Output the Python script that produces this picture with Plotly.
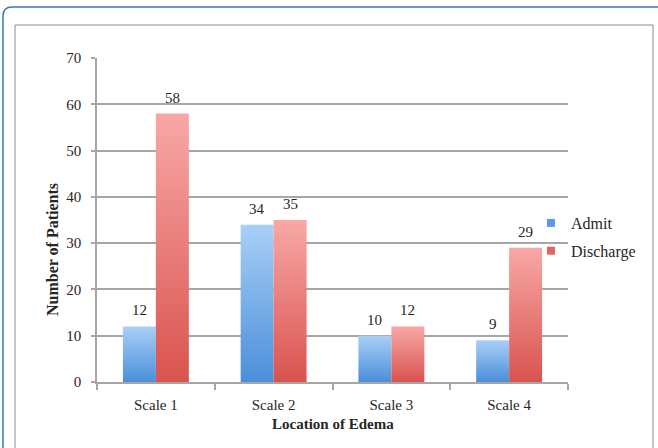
import plotly.graph_objects as go

# Data
categories = ["Scale 1", "Scale 2", "Scale 3", "Scale 4"]
admit = [12, 34, 10, 9]
discharge = [58, 35, 12, 29]
series_names = ["Admit", "Discharge"]

# Styling
FONT = "Liberation Serif"
TXT = "#262626"
GRID = "#a6a6a6"
BAR_W = 0.28
gradients = {
    "Admit": [[0, "#4a8fd9"], [1, "#a9cff7"]],
    "Discharge": [[0, "#d9534f"], [1, "#f8a8a6"]],
}
legend_colors = {"Admit": "#5b9be0", "Discharge": "#e06666"}

W, H = 658, 448
L, R, T, B = 97, 90, 58, 66
PW, PH = W - L - R, H - T - B


def px_to_paper_x(px):
    return (px - L) / PW


def px_to_paper_y(py):
    return (H - B - py) / PH


fig = go.Figure()

for s_idx, (name, values) in enumerate(zip(series_names, [admit, discharge])):
    for c_idx, v in enumerate(values):
        x0 = c_idx - BAR_W + s_idx * BAR_W
        x1 = x0 + BAR_W
        fig.add_trace(go.Scatter(
            x=[x0, x1, x1, x0, x0], y=[0, 0, v, v, 0],
            mode="lines", fill="toself", line=dict(width=0),
            fillgradient=dict(type="vertical", colorscale=gradients[name]),
            showlegend=False, hoverinfo="skip",
        ))
        fig.add_annotation(
            x=(x0 + x1) / 2, y=v, text=str(v), showarrow=False,
            yanchor="bottom", yshift=6,
            font=dict(family=FONT, size=15, color=TXT),
        )
    # legend entry
    fig.add_trace(go.Scatter(
        x=[None], y=[None], mode="markers", name=name, legendgroup=name,
        marker=dict(symbol="square", size=8, color=legend_colors[name]),
    ))

fig.update_layout(
    width=W, height=H,
    margin=dict(l=L, r=R, t=T, b=B),
    paper_bgcolor="white", plot_bgcolor="white",
    font=dict(family=FONT, size=15, color=TXT),
    showlegend=True,
    legend=dict(
        x=px_to_paper_x(531), y=px_to_paper_y(206), xanchor="left", yanchor="top",
        font=dict(family=FONT, size=16, color=TXT),
        tracegroupgap=4, itemwidth=30, bgcolor="rgba(0,0,0,0)",
    ),
    xaxis=dict(
        range=[-0.5, len(categories) - 0.5],
        tickmode="array", tickvals=list(range(len(categories))), ticktext=categories,
        ticks="", showgrid=False, zeroline=False,
        showline=True, linecolor=GRID, linewidth=1.5,
        ticklabelstandoff=8,
        minor=dict(tickmode="array",
                   tickvals=[i - 0.5 for i in range(len(categories) + 1)],
                   ticks="outside", ticklen=6, tickcolor=GRID, tickwidth=1.5,
                   showgrid=False),
        tickfont=dict(family=FONT, size=15, color=TXT),
        fixedrange=True,
    ),
    yaxis=dict(
        range=[0, 70], dtick=10, tick0=0,
        showgrid=True, gridcolor=GRID, gridwidth=1.5,
        zeroline=False, showline=True, linecolor=GRID, linewidth=1.5,
        ticks="outside", ticklen=4, tickcolor=GRID, tickwidth=1.5,
        ticklabelstandoff=7,
        tickfont=dict(family=FONT, size=15, color=TXT),
        fixedrange=True,
    ),
)

# Axis titles
fig.add_annotation(
    xref="paper", yref="paper", x=px_to_paper_x(52), y=px_to_paper_y(250),
    xanchor="center", yanchor="middle",
    text="<b>Number of Patients</b>", textangle=-90, showarrow=False,
    font=dict(family=FONT, size=16, color=TXT),
)
fig.add_annotation(
    xref="paper", yref="paper", x=px_to_paper_x(333), y=px_to_paper_y(424),
    xanchor="center", yanchor="middle",
    text="<b>Location of Edema</b>", showarrow=False,
    font=dict(family=FONT, size=15, color=TXT),
)

# Chart frame: outer rounded blue border and inner grey box
ox0, oy0 = px_to_paper_x(3), px_to_paper_y(7)
ox1, oy1 = px_to_paper_x(670), px_to_paper_y(460)
rx, ry = 9 / PW, 9 / PH
outer_path = (
    f"M {ox0},{oy1} L {ox0},{oy0 - ry} Q {ox0},{oy0} {ox0 + rx},{oy0} "
    f"L {ox1},{oy0}"
)
fig.add_shape(type="path", xref="paper", yref="paper", path=outer_path,
              line=dict(color="#3a78b8", width=1.5), layer="below")
fig.add_shape(type="rect", xref="paper", yref="paper",
              x0=px_to_paper_x(15), x1=px_to_paper_x(653),
              y0=px_to_paper_y(460), y1=px_to_paper_y(25),
              line=dict(color="#8c8c8c", width=1), layer="below")

fig.write_html("out.html")
